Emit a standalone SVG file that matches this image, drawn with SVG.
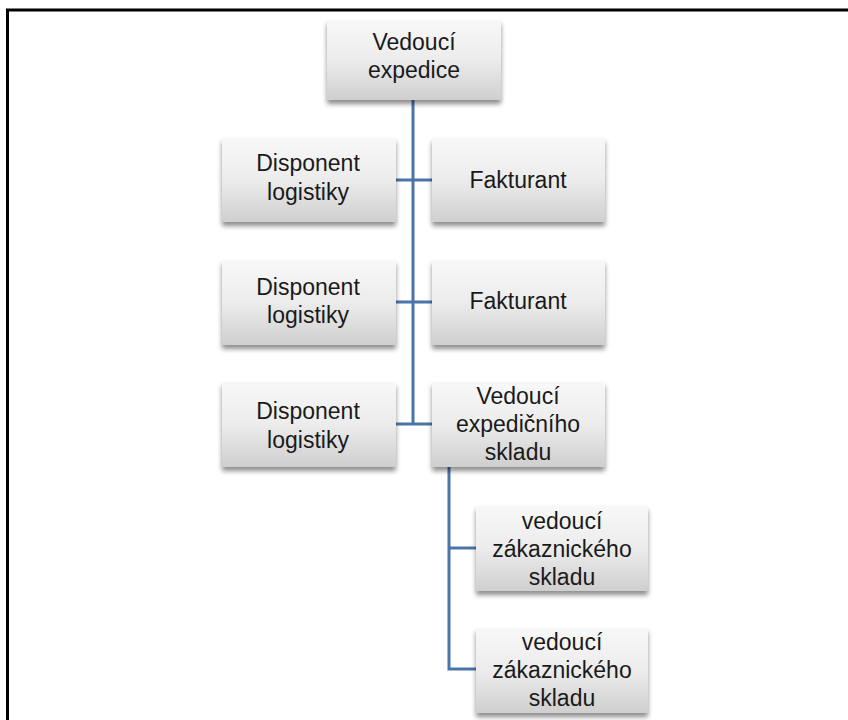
<svg xmlns="http://www.w3.org/2000/svg" width="848" height="720" viewBox="0 0 848 720">
<defs>
<linearGradient id="g" x1="0" y1="0" x2="0" y2="1">
<stop offset="0" stop-color="#f8f8f8"/>
<stop offset="0.5" stop-color="#ececec"/>
<stop offset="1" stop-color="#cfcfcf"/>
</linearGradient>
<filter id="sh" x="-10%" y="-10%" width="120%" height="130%">
<feGaussianBlur in="SourceAlpha" stdDeviation="2.5"/>
<feOffset dx="0" dy="4" result="b"/>
<feComponentTransfer><feFuncA type="linear" slope="0.45"/></feComponentTransfer>
<feMerge><feMergeNode/><feMergeNode in="SourceGraphic"/></feMerge>
</filter>
</defs>
<style>
.box{fill:url(#g);filter:url(#sh)}
.t{font-family:"Liberation Sans","DejaVu Sans",sans-serif;font-size:23px;fill:#1a1a1a;text-anchor:middle}
.c{stroke:#4a75a8;stroke-width:3;fill:none}
</style>
<rect width="848" height="720" fill="#fff"/>
<path d="M7.5,720 V10 H848" fill="none" stroke="#000" stroke-width="3"/>
<g id="connectors">
<path class="c" d="M413,100 V424"/>
<path class="c" d="M395,180 H432"/>
<path class="c" d="M395,302 H432"/>
<path class="c" d="M395,424 H432"/>
<path class="c" d="M449,467 V669 H476"/>
<path class="c" d="M449,548 H476"/>
</g>
<g id="n0"><rect class="box" x="327" y="20" width="174" height="80"/><text class="t" x="414" y="50">Vedoucí</text><text class="t" x="414" y="78">expedice</text></g>
<g id="n1"><rect class="box" x="222" y="138" width="174" height="84"/><text class="t" x="308" y="171">Disponent</text><text class="t" x="308" y="200">logistiky</text></g>
<g id="n2"><rect class="box" x="432" y="138" width="173" height="84"/><text class="t" x="518" y="188">Fakturant</text></g>
<g id="n3"><rect class="box" x="222" y="260" width="174" height="85"/><text class="t" x="308" y="295">Disponent</text><text class="t" x="308" y="323">logistiky</text></g>
<g id="n4"><rect class="box" x="432" y="260" width="173" height="85"/><text class="t" x="518" y="309">Fakturant</text></g>
<g id="n5"><rect class="box" x="222" y="382" width="174" height="85"/><text class="t" x="308" y="419">Disponent</text><text class="t" x="308" y="448">logistiky</text></g>
<g id="n6"><rect class="box" x="432" y="382" width="173" height="85"/><text class="t" x="518" y="404">Vedoucí</text><text class="t" x="518" y="432">expedičního</text><text class="t" x="518" y="460">skladu</text></g>
<g id="n7"><rect class="box" x="476" y="506" width="172" height="85"/><text class="t" x="562" y="529">vedoucí</text><text class="t" x="562" y="557">zákaznického</text><text class="t" x="562" y="585">skladu</text></g>
<g id="n8"><rect class="box" x="476" y="628" width="172" height="85"/><text class="t" x="562" y="650">vedoucí</text><text class="t" x="562" y="678">zákaznického</text><text class="t" x="562" y="706">skladu</text></g>
</svg>
